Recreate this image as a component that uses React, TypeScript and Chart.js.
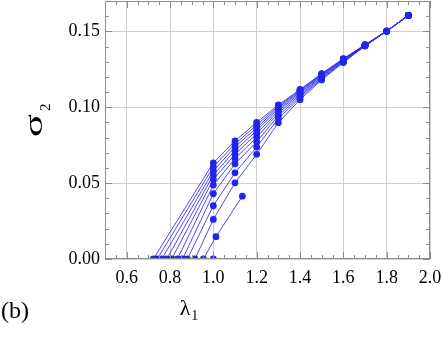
import React, { useEffect, useRef } from "react";
import { Chart, registerables } from "chart.js";

Chart.register(...registerables);

// λ1 positions of the regular data columns
const LAMBDA = [1.0, 1.1, 1.2, 1.3, 1.4, 1.5, 1.6, 1.7, 1.8, 1.9];
// onset (σ2 = 0) positions of each branch, top branch first
const ONSET = [0.723, 0.741, 0.762, 0.785, 0.808, 0.834, 0.858, 0.88, 0.915];

// σ2 values at LAMBDA for each branch
const S1 = [0.0634, 0.0778, 0.09, 0.1015, 0.1117, 0.1222, 0.132, 0.1412, 0.1502, 0.1605];
const S2 = [0.0607, 0.0758, 0.0883, 0.1007, 0.1112, 0.1219, 0.1318, 0.1411, 0.1502, 0.1605];
const S3 = [0.058, 0.0738, 0.0865, 0.0998, 0.1106, 0.1215, 0.1316, 0.141, 0.1502, 0.1605];
const S4 = [0.0553, 0.0715, 0.0846, 0.0988, 0.1099, 0.1211, 0.1313, 0.1409, 0.1502, 0.1605];
const S5 = [0.0524, 0.069, 0.0825, 0.0976, 0.1091, 0.1206, 0.131, 0.1408, 0.1502, 0.1605];
const S6 = [0.0487, 0.0662, 0.0801, 0.0962, 0.1082, 0.12, 0.1306, 0.1407, 0.1502, 0.1605];
const S7 = [0.043, 0.0627, 0.0772, 0.0945, 0.1072, 0.1194, 0.1302, 0.1406, 0.1502, 0.1605];
const S8 = [0.0351, 0.0568, 0.0738, 0.0925, 0.1062, 0.1187, 0.1298, 0.1405, 0.1502, 0.1605];
const S9 = [0.0261, 0.0502, 0.069, 0.0898, 0.105, 0.118, 0.1294, 0.1404, 0.15, 0.1603];

// short lowest branch
const TAIL_X = [0.954, 1.012, 1.134];
const TAIL_Y = [0, 0.0147, 0.0414];
// isolated point
const LONE_X = [1.0];
const LONE_Y = [0];

const X_TICKS = [0.6, 0.8, 1.0, 1.2, 1.4, 1.6, 1.8, 2.0];
const Y_TICKS = [0, 0.05, 0.1, 0.15];

const BLUE = "#2323ee";
const LINE = "rgba(45,45,240,0.85)";
const SERIF = "'Liberation Serif', 'Times New Roman', serif";
const SHIFT = 3;

export default function App() {
  const ref = useRef<HTMLCanvasElement>(null);

  useEffect(() => {
    document.body.style.margin = "0";
    const branches = [S1, S2, S3, S4, S5, S6, S7, S8, S9];
    const style = {
      borderColor: LINE,
      backgroundColor: BLUE,
      pointBackgroundColor: BLUE,
      pointBorderColor: BLUE,
      borderWidth: 1,
      pointRadius: 3.4,
      pointBorderWidth: 0,
      tension: 0,
      clip: 0,
      showLine: true,
    };
    const datasets: any[] = branches.map((ys, i) => ({
      ...style,
      data: [{ x: ONSET[i], y: 0 }, ...LAMBDA.map((x, j) => ({ x, y: ys[j] }))],
    }));
    datasets.push({ ...style, data: TAIL_X.map((x, i) => ({ x, y: TAIL_Y[i] })) });
    datasets.push({ ...style, data: LONE_X.map((x, i) => ({ x, y: LONE_Y[i] })) });

    const frame = {
      id: "frame",
      afterDatasetsDraw(chart: any) {
        const { ctx, chartArea: a, scales } = chart;
        const xs = scales.x;
        const ys = scales.y;
        ctx.save();
        ctx.strokeStyle = "#8c8c8c";
        ctx.lineWidth = 1;
        ctx.strokeRect(Math.round(a.left) + 0.5, Math.round(a.top) + 0.5, Math.round(a.right - a.left) - 1, Math.round(a.bottom - a.top) - 1);
        ctx.beginPath();
        for (let k = 10; k <= 40; k++) {
          const v = k * 0.05;
          const major = k % 4 === 0;
          const len = major ? 7 : 4;
          const px = Math.round(xs.getPixelForValue(v)) + 0.5;
          ctx.moveTo(px, a.bottom);
          ctx.lineTo(px, a.bottom - len);
          ctx.moveTo(px, a.top);
          ctx.lineTo(px, a.top + len);
        }
        for (let k = 0; k <= 17; k++) {
          const v = k * 0.01;
          const major = k % 5 === 0;
          const len = major ? 7 : 4;
          const py = Math.round(ys.getPixelForValue(v)) + 0.5;
          ctx.moveTo(a.left, py);
          ctx.lineTo(a.left + len, py);
          ctx.moveTo(a.right, py);
          ctx.lineTo(a.right - len, py);
        }
        ctx.stroke();

        // axis titles
        ctx.fillStyle = "#000";
        ctx.textBaseline = "alphabetic";
        ctx.textAlign = "left";
        ctx.font = `22px ${SERIF}`;
        const lw = ctx.measureText("λ").width;
        ctx.fillText("λ", 185 - lw / 2, 315 + SHIFT);
        ctx.font = `14px ${SERIF}`;
        ctx.fillText("1", 185 + lw / 2 + 1, 320 + SHIFT);

        ctx.font = `24px ${SERIF}`;
        ctx.fillText("(b)", 1, 318 + SHIFT);

        ctx.save();
        ctx.translate(42, 137 + SHIFT);
        ctx.rotate(-Math.PI / 2);
        ctx.font = `26px ${SERIF}`;
        const sw = ctx.measureText("σ").width;
        ctx.save();
        ctx.scale(23 / sw, 1);
        ctx.fillText("σ", 0, 0);
        ctx.restore();
        ctx.font = `15px ${SERIF}`;
        ctx.fillText("2", 26, 8);
        ctx.restore();
        ctx.restore();
      },
    };

    const zeroPad = (s: any) => {
      s.paddingTop = 0;
      s.paddingBottom = 0;
      s.paddingLeft = 0;
      s.paddingRight = 0;
    };

    const chart = new Chart(ref.current!, {
      type: "scatter",
      data: { datasets },
      options: {
        animation: false,
        responsive: true,
        maintainAspectRatio: false,
        layout: { padding: { left: 0, top: 0, right: 13, bottom: 0 } },
        plugins: { legend: { display: false }, tooltip: { enabled: false } },
        scales: {
          x: {
            type: "linear",
            min: 0.5,
            max: 2.0,
            afterBuildTicks: (s: any) => {
              s.ticks = X_TICKS.map((v) => ({ value: v }));
            },
            afterFit: (s: any) => {
              s.height = 86;
              zeroPad(s);
            },
            grid: { color: "#cfcfcf", drawTicks: false, lineWidth: 1 },
            border: { display: false },
            ticks: {
              padding: 8,
              color: "#000",
              font: { family: SERIF, size: 18 },
              callback: (v: any) => Number(v).toFixed(1),
              maxRotation: 0,
              autoSkip: false,
            },
          },
          y: {
            type: "linear",
            min: 0,
            max: 0.17,
            afterBuildTicks: (s: any) => {
              s.ticks = Y_TICKS.map((v) => ({ value: v }));
            },
            afterFit: (s: any) => {
              s.width = 105;
              zeroPad(s);
            },
            grid: { color: "#cfcfcf", drawTicks: false, lineWidth: 1 },
            border: { display: false },
            ticks: {
              padding: 5,
              color: "#000",
              font: { family: SERIF, size: 18 },
              callback: (v: any) => Number(v).toFixed(2),
              autoSkip: false,
            },
          },
        },
      },
      plugins: [frame],
    });
    return () => chart.destroy();
  }, []);

  return (
    <div style={{ position: "relative", width: 443, height: 345, overflow: "hidden" }}>
      <div style={{ position: "absolute", left: 0, top: -SHIFT, width: 443, height: 345 + SHIFT }}>
        <canvas ref={ref} />
      </div>
    </div>
  );
}
